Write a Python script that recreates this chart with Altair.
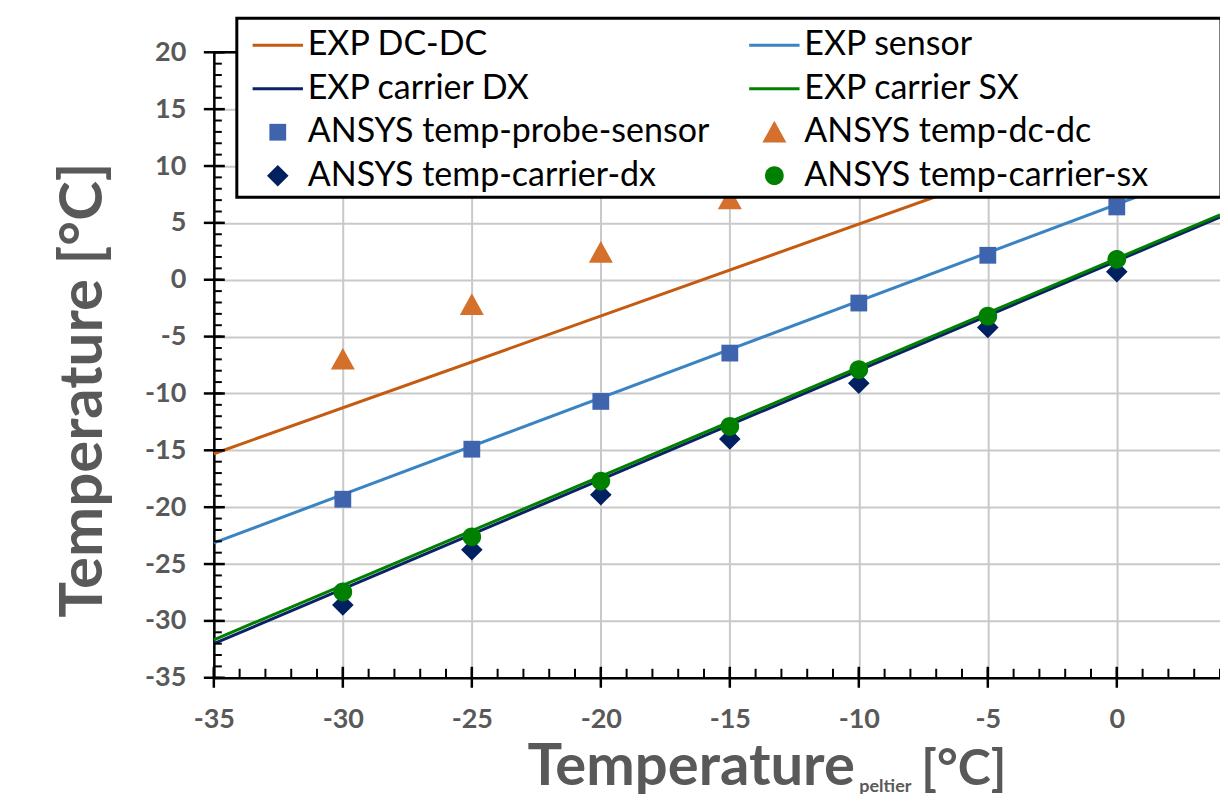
import altair as alt
import pandas as pd

# ---------------- data ----------------
series = ["EXP DC-DC", "EXP sensor", "EXP carrier DX", "EXP carrier SX",
          "ANSYS temp-probe-sensor", "ANSYS temp-dc-dc",
          "ANSYS temp-carrier-dx", "ANSYS temp-carrier-sx"]
colors = ["#C55A11", "#3A84C4", "#0B2366", "#008000",
          "#3E64AE", "#D4702C", "#002060", "#008000"]

# experimental fit lines (end points)
x_exp = [-35, 4]
exp_dcdc = [-15.3, 16.2]
exp_sensor = [-23.14, 10.03]
exp_dx = [-32.0, 5.5]
exp_sx = [-31.66, 5.7]

# ANSYS simulation points
x_ansys = [-30, -25, -20, -15, -10, -5, 0]
ansys_sensor = [-19.3, -14.9, -10.7, -6.45, -2.05, 2.15, 6.4]
x_ansys_dcdc = [-30, -25, -20, -15]
ansys_dcdc = [-7.0, -2.2, 2.4, 7.1]
ansys_dx = [-28.6, -23.75, -18.9, -14.0, -9.1, -4.2, 0.7]
ansys_sx = [-27.45, -22.6, -17.7, -12.9, -7.9, -3.2, 1.8]

x_ticks = [-35, -30, -25, -20, -15, -10, -5, 0]
y_ticks = [-35, -30, -25, -20, -15, -10, -5, 0, 5, 10, 15, 20]
x_minor = list(range(-35, 5))
y_minor = list(range(-35, 21))
x_domain = [-35, 4]
y_domain = [-35, 20]

# ---------------- tables ----------------
lines_df = pd.concat([
    pd.DataFrame({"series": "EXP DC-DC", "x": x_exp, "y": exp_dcdc}),
    pd.DataFrame({"series": "EXP sensor", "x": x_exp, "y": exp_sensor}),
    pd.DataFrame({"series": "EXP carrier DX", "x": x_exp, "y": exp_dx}),
    pd.DataFrame({"series": "EXP carrier SX", "x": x_exp, "y": exp_sx}),
])
pts_df = pd.concat([
    pd.DataFrame({"series": "ANSYS temp-probe-sensor", "x": x_ansys, "y": ansys_sensor}),
    pd.DataFrame({"series": "ANSYS temp-dc-dc", "x": x_ansys_dcdc, "y": ansys_dcdc}),
    pd.DataFrame({"series": "ANSYS temp-carrier-dx", "x": x_ansys, "y": ansys_dx}),
    pd.DataFrame({"series": "ANSYS temp-carrier-sx", "x": x_ansys, "y": ansys_sx}),
])

# custom symbol paths (unit box -1..1)
LINE = "M-2.1,-0.12H2.1V0.12H-2.1Z"
SQUARE = "M-0.7,-0.7H0.7V0.7H-0.7Z"
TRI = "M0,-0.95L1,0.85H-1Z"
DIAMOND = "M0,-0.9L0.9,0L0,0.9L-0.9,0Z"
CIRCLE = "M-0.78,0A0.78,0.78,0,1,0,0.78,0A0.78,0.78,0,1,0,-0.78,0Z"
shapes = [LINE, LINE, LINE, LINE, SQUARE, TRI, DIAMOND, CIRCLE]

W, H = 1007, 626
GRAY = "#595959"
FONT = "Lato"
MINUS_FIX = "replace(datum.label, '\u2212', '-')"

xscale = alt.Scale(domain=x_domain, nice=False, zero=False)
yscale = alt.Scale(domain=y_domain, nice=False, zero=False)
xaxis = alt.Axis(values=x_ticks, title=None, grid=True, gridColor="#C9C9C9", gridWidth=2,
                 ticks=False, domainColor="black", domainWidth=2.5,
                 labelFont=FONT, labelFontSize=27, labelFontWeight="bold", labelColor=GRAY,
                 labelPadding=29, labelFlush=False, labelOverlap=False, labelExpr=MINUS_FIX)
yaxis = alt.Axis(values=y_ticks, title=None, grid=True, gridColor="#C9C9C9", gridWidth=2,
                 ticks=False, domainColor="black", domainWidth=2.5,
                 labelFont=FONT, labelFontSize=27, labelFontWeight="bold", labelColor=GRAY,
                 labelPadding=28, labelOverlap=False, labelExpr=MINUS_FIX)

color_scale = alt.Scale(domain=series, range=colors)
shape_scale = alt.Scale(domain=series, range=shapes)

legend = alt.Legend(
    orient="none", direction="horizontal", legendX=47, legendY=-24, columns=2,
    columnPadding=39, rowPadding=9.5,
    title=None, padding=0, labelFont=FONT, labelFontSize=34, labelColor="black",
    labelOffset=13, labelLimit=0, symbolSize=576, symbolOpacity=1, symbolStrokeWidth=0,
)

lines = alt.Chart(lines_df).mark_line(strokeWidth=3).encode(
    x=alt.X("x:Q", scale=xscale, axis=xaxis),
    y=alt.Y("y:Q", scale=yscale, axis=yaxis),
    color=alt.Color("series:N", scale=color_scale, legend=legend),
    detail="series:N",
)
points = alt.Chart(pts_df).mark_point(filled=True, size=576, opacity=1).encode(
    x=alt.X("x:Q", scale=xscale, axis=xaxis),
    y=alt.Y("y:Q", scale=yscale, axis=yaxis),
    color=alt.Color("series:N", scale=color_scale, legend=legend),
    shape=alt.Shape("series:N", scale=shape_scale, legend=legend),
)

# top border line at y = 20
top_line = alt.Chart(pd.DataFrame({"v": [y_domain[1]]})).mark_rule(color="black", strokeWidth=2.5).encode(
    y=alt.Y("v:Q", scale=yscale, axis=yaxis), x=alt.value(0), x2=alt.value(W))

# tick marks (minor inside, major crossing)
y_minor_r = alt.Chart(pd.DataFrame({"v": y_minor})).mark_rule(color="black", strokeWidth=2).encode(
    y=alt.Y("v:Q", scale=yscale, axis=yaxis), x=alt.value(0), x2=alt.value(8))
y_major_r = alt.Chart(pd.DataFrame({"v": y_ticks})).mark_rule(color="black", strokeWidth=2.5).encode(
    y=alt.Y("v:Q", scale=yscale, axis=yaxis), x=alt.value(-10), x2=alt.value(11))
x_minor_r = alt.Chart(pd.DataFrame({"v": x_minor})).mark_rule(color="black", strokeWidth=2).encode(
    x=alt.X("v:Q", scale=xscale, axis=xaxis), y=alt.value(H - 9), y2=alt.value(H))
x_major_r = alt.Chart(pd.DataFrame({"v": x_ticks})).mark_rule(color="black", strokeWidth=2.5).encode(
    x=alt.X("v:Q", scale=xscale, axis=xaxis), y=alt.value(H - 11), y2=alt.value(H + 10))

# legend frame
frame = alt.Chart(pd.DataFrame({"a": [0]})).mark_rect(
    fill="white", stroke="black", strokeWidth=3).encode(
    x=alt.value(23), x2=alt.value(1008), y=alt.value(-34), y2=alt.value(145))

# axis titles
ytitle = alt.Chart(pd.DataFrame({"t": ["Temperature [°C]"]})).mark_text(
    font=FONT, fontSize=60, fontWeight="bold", color=GRAY, angle=270,
    align="center", baseline="middle").encode(
    text="t:N", x=alt.value(-130), y=alt.value(338))
xt1 = alt.Chart(pd.DataFrame({"t": ["Temperature"]})).mark_text(
    font=FONT, fontSize=58, fontWeight="bold", color=GRAY, align="left",
    baseline="alphabetic").encode(text="t:N", x=alt.value(314), y=alt.value(733))
xt2 = alt.Chart(pd.DataFrame({"t": ["peltier"]})).mark_text(
    font=FONT, fontSize=18, fontWeight="bold", color=GRAY, align="left",
    baseline="alphabetic").encode(text="t:N", x=alt.value(646), y=alt.value(740))
xt3 = alt.Chart(pd.DataFrame({"t": ["[°C]"]})).mark_text(
    font=FONT, fontSize=50, fontWeight="bold", color=GRAY, align="left",
    baseline="alphabetic").encode(text="t:N", x=alt.value(708), y=alt.value(733))

chart = alt.layer(
    lines, points, top_line, y_minor_r, y_major_r, x_minor_r, x_major_r,
    frame, ytitle, xt1, xt2, xt3,
).properties(
    width=W, height=H, autosize="none",
    padding={"left": 206, "top": 44, "right": 0, "bottom": 116},
).configure_view(stroke=None)

chart.save("out.html", embed_options={"renderer": "svg", "actions": False})
